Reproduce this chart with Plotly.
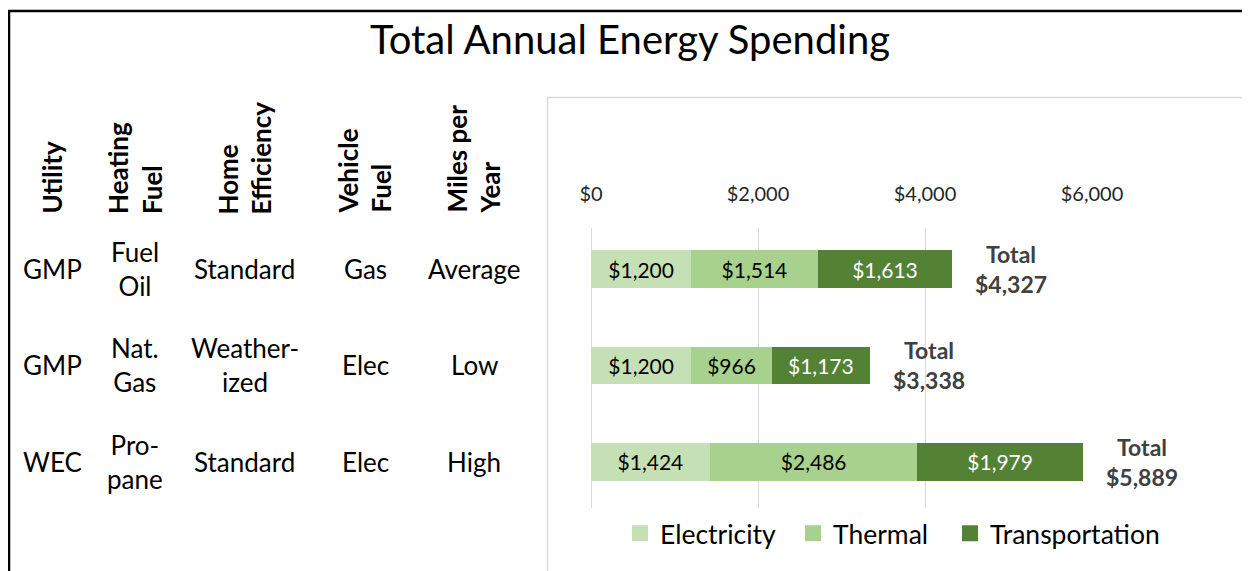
import plotly.graph_objects as go

# ---- data ----
scenarios = ["Scenario 1", "Scenario 2", "Scenario 3"]
electricity = [1200, 1200, 1424]
thermal = [1514, 966, 2486]
transportation = [1613, 1173, 1979]
totals = [4327, 3338, 5889]

col_headers = ["Utility", "Heating<br>Fuel", "Home<br>Efficiency", "Vehicle<br>Fuel", "Miles per<br>Year"]
utility = ["GMP", "GMP", "WEC"]
heating_fuel = ["Fuel<br>Oil", "Nat.<br>Gas", "Pro-<br>pane"]
home_eff = ["Standard", "Weather-<br>ized", "Standard"]
vehicle_fuel = ["Gas", "Elec", "Elec"]
miles = ["Average", "Low", "High"]

x_ticks = [0, 2000, 4000, 6000]
tick_text = ["$0", "$2,000", "$4,000", "$6,000"]

# page is 1250x571; the html body has an 8px margin, so the figure is 8px smaller
PAGE_OFF = 8
FW, FH = 1250 - PAGE_OFF, 571 - PAGE_OFF
FONT = "Lato"
C_ELEC, C_THERM, C_TRANS = "#C5E0B4", "#A9D18E", "#548235"


def px(x):
    return (x - PAGE_OFF) / FW


def py(y):
    return 1 - (y - PAGE_OFF) / FH


def money(v):
    return "${:,}".format(v)


fig = go.Figure()
series = [
    ("Electricity", electricity, C_ELEC, "#000000", "legend", 620),
    ("Thermal", thermal, C_THERM, "#000000", "legend2", 793),
    ("Transportation", transportation, C_TRANS, "#FFFFFF", "legend3", 950),
]
for name, vals, col, tcol, lg, lx in series:
    fig.add_trace(go.Bar(
        name=name, y=scenarios, x=vals, orientation="h",
        marker=dict(color=col, line=dict(width=0)),
        text=[money(v) for v in vals], textposition="inside",
        insidetextanchor="middle", textangle=0,
        textfont=dict(family=FONT, size=21, color=tcol),
        width=0.39, hoverinfo="skip", showlegend=False,
    ))
# legend entries with larger square swatches
for name, vals, col, tcol, lg, lx in series:
    fig.add_trace(go.Scatter(
        name=name, x=[None], y=[None], mode="markers",
        marker=dict(symbol="square", size=17, color=col, line=dict(width=0)),
        showlegend=True, hoverinfo="skip", legend=lg,
    ))

annotations = []
# totals
for s, t in zip(scenarios, totals):
    annotations.append(dict(
        x=t, y=s, xref="x", yref="y", xanchor="center", yanchor="middle",
        xshift=59, showarrow=False, align="center",
        text="<b>Total<br>" + money(t) + "</b>",
        font=dict(family=FONT, size=23, color="#404040"),
    ))

# table
col_x = [52, 135, 245, 365, 474]
for cx, hdr in zip(col_x, col_headers):
    annotations.append(dict(
        x=px(cx), y=py(216), xref="paper", yref="paper",
        xanchor="center", yanchor="bottom", textangle=-90, align="left",
        showarrow=False, text="<b>" + hdr + "</b>",
        font=dict(family=FONT, size=26, color="#000000"),
    ))
for cx, col in zip(col_x, [utility, heating_fuel, home_eff, vehicle_fuel, miles]):
    for s, txt in zip(scenarios, col):
        annotations.append(dict(
            x=px(cx), y=s, xref="paper", yref="y",
            xanchor="center", yanchor="middle", align="center",
            showarrow=False, text=txt,
            font=dict(family=FONT, size=26, color="#000000"),
        ))

shapes = [
    # outer frame
    dict(type="rect", xref="paper", yref="paper", x0=px(9), x1=1.05, y0=-0.05, y1=py(11),
         line=dict(color="#000000", width=2.5), fillcolor="rgba(0,0,0,0)", layer="below"),
    # chart area frame
    dict(type="rect", xref="paper", yref="paper", x0=px(547.5), x1=px(1247.5), y0=-0.05, y1=py(97.5),
         line=dict(color="#D9D9D9", width=1.5), fillcolor="rgba(0,0,0,0)", layer="below"),
]

legend_common = dict(orientation="h", yanchor="middle", xanchor="left", y=py(533.5),
                     font=dict(family=FONT, size=26.5, color="#000000"),
                     bgcolor="rgba(0,0,0,0)", borderwidth=0, itemwidth=30)

fig.update_layout(
    width=FW, height=FH, margin=dict(l=0, r=0, t=0, b=0, autoexpand=False),
    paper_bgcolor="white", plot_bgcolor="white",
    barmode="stack",
    font=dict(family=FONT, color="#000000"),
    title=dict(text="Total Annual Energy Spending", x=px(630), y=py(40),
               xanchor="center", yanchor="middle",
               font=dict(family=FONT, size=40, color="#000000")),
    xaxis=dict(domain=[px(591), px(1092)], range=[0, 6000], side="top",
               tickmode="array", tickvals=x_ticks, ticktext=tick_text,
               showgrid=True, gridcolor="#D9D9D9", gridwidth=1.3,
               zeroline=True, zerolinecolor="#D9D9D9", zerolinewidth=1.3,
               showline=False, ticks="", ticklabelstandoff=22, automargin=False,
               tickfont=dict(family=FONT, size=20, color="#262626"), fixedrange=True),
    yaxis=dict(domain=[py(508), py(228)], range=[2.477, -0.425],
               showticklabels=False, showgrid=False, zeroline=False, showline=False,
               ticks="", fixedrange=True, automargin=False),
    legend=dict(legend_common, x=px(series[0][5])),
    legend2=dict(legend_common, x=px(series[1][5])),
    legend3=dict(legend_common, x=px(series[2][5])),
    showlegend=True,
    annotations=annotations, shapes=shapes,
)

fig.write_html("out.html")
